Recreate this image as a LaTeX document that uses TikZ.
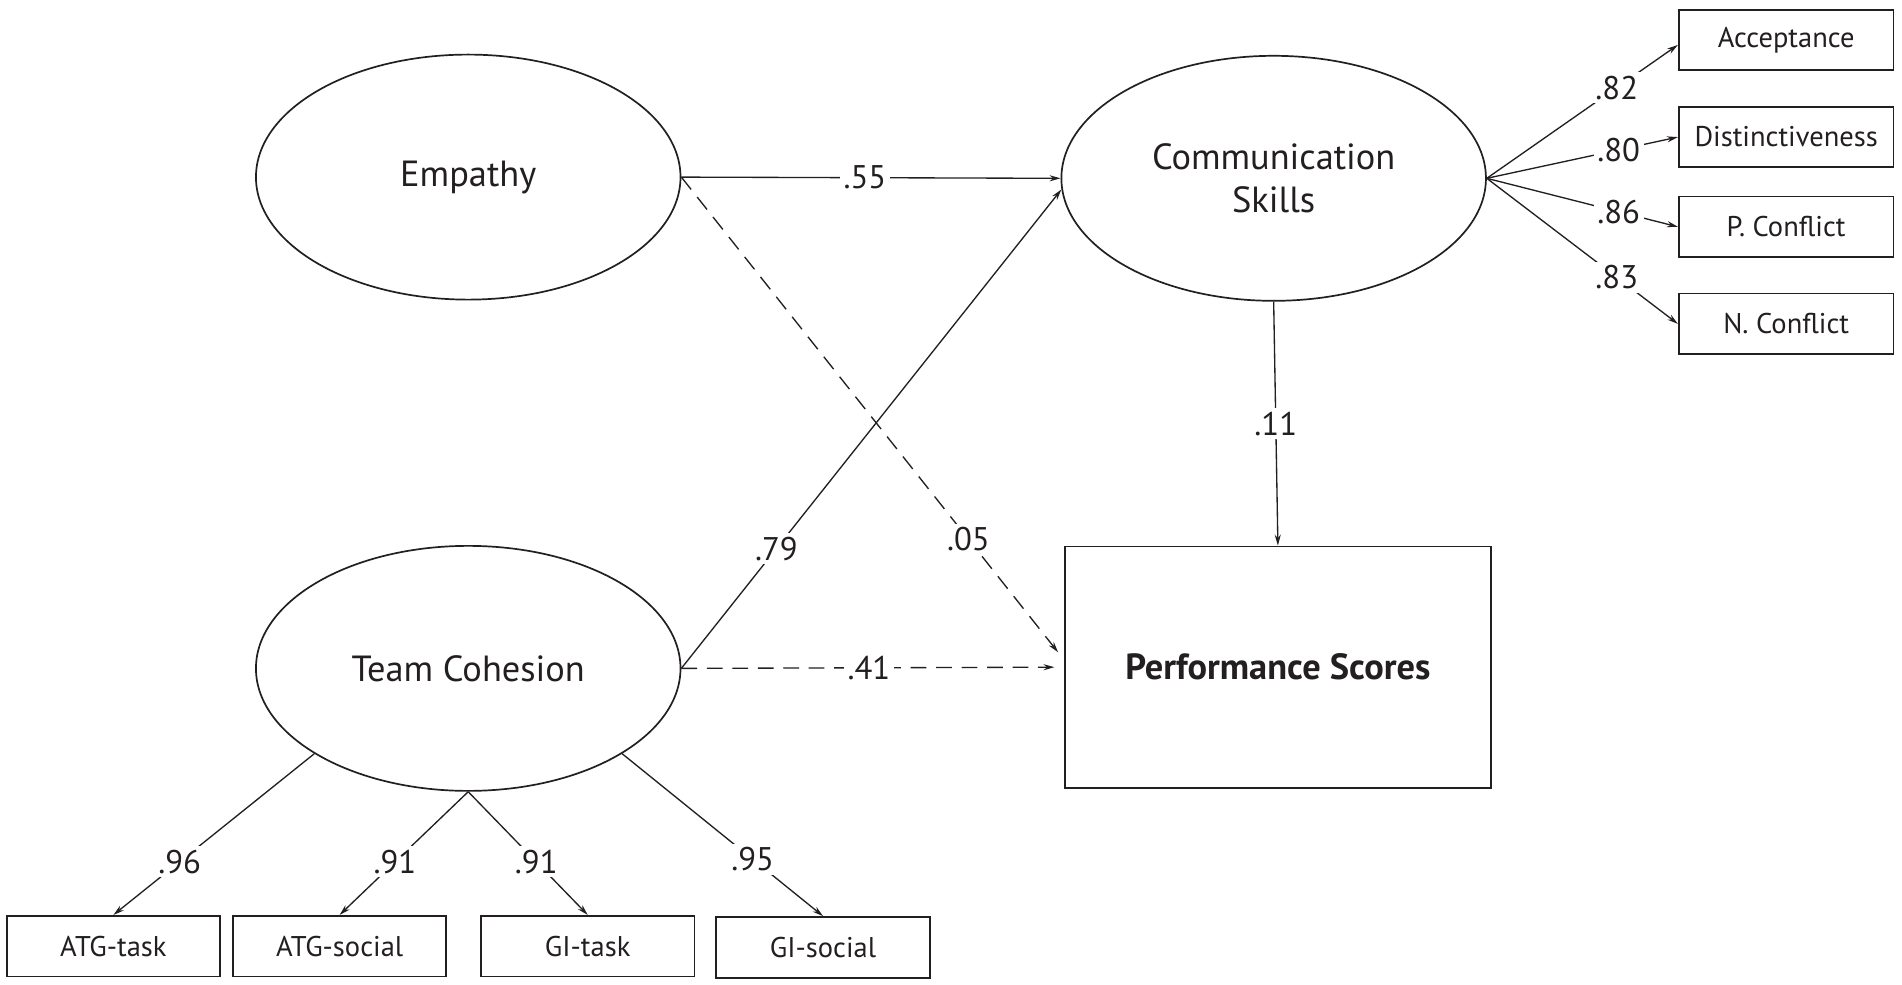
\documentclass[tikz,border=0pt]{standalone}
\usepackage{fontspec}
\setmainfont{PT Sans}
\usetikzlibrary{arrows.meta,shapes.geometric,calc}
\definecolor{ink}{HTML}{231F20}
\begin{document}
\begin{tikzpicture}[x=1pt,y=-1pt,
  every node/.style={text=ink},
  latent/.style={ellipse,draw=ink,line width=1.4pt,minimum width=350pt,minimum height=202pt,inner sep=0pt,align=center,font=\fontsize{30}{36}\selectfont},
  obsbox/.style={rectangle,draw=ink,line width=1.5pt,minimum width=176pt,minimum height=50pt,inner sep=0pt,font=\fontsize{23.5}{27}\selectfont},
  coef/.style={fill=white,inner sep=3pt,font=\fontsize{27}{31}\selectfont},
  conn/.style={draw=ink,line width=1.1pt,-{Stealth[length=9pt,width=5pt]}},
  dconn/.style={conn,dash pattern=on 13pt off 8pt},
]
\fill[white] (0,0) rectangle (1568,812);
\useasboundingbox (0,0) rectangle (1568,812);

% latent variables
\node[latent] (emp) at (386,146) {Empathy};
\node[latent] (comm) at (1050,147) {Communication\\Skills};
\node[latent] (tc) at (386,551) {Team Cohesion};

% outcome
\node[draw=ink,line width=1.5pt,minimum width=351pt,minimum height=199pt,inner sep=0pt,font=\bfseries\fontsize{30}{36}\selectfont] (perf) at (1053.5,550) {Performance Scores};

% indicators of communication skills
\node[obsbox,minimum width=177pt] (acc) at (1472.5,33) {Acceptance};
\node[obsbox,minimum width=177pt] (dist) at (1472.5,113) {Distinctiveness};
\node[obsbox,minimum width=177pt] (pc) at (1472.5,187) {P. Conflict};
\node[obsbox,minimum width=177pt] (nc) at (1472.5,267) {N. Conflict};

% indicators of team cohesion
\node[obsbox] (atgt) at (93.5,780) {ATG-task};
\node[obsbox] (atgs) at (280,780) {ATG-social};
\node[obsbox] (git) at (484.5,780) {GI-task};
\node[obsbox] (gis) at (678.5,781) {GI-social};

% structural paths
\draw[conn] (emp.east) -- node[coef,pos=.484]{.55} (comm.west);
\draw[dconn,shorten >=8pt] (emp.east) -- node[coef,pos=.75]{.05} ([yshift=6pt]perf.west);
\draw[conn] (tc.east) -- node[coef,pos=.25]{.79} (comm.183);
\draw[dconn,shorten >=8pt] (tc.east) -- node[coef,pos=.49]{.41} (perf.west);
\draw[conn] (comm.south) -- node[coef,pos=.5]{.11} (perf.north);

% loadings communication skills
\draw[conn] (comm.east) -- node[coef,pos=.68]{.82} ([yshift=-4pt]acc.west);
\draw[conn] (comm.east) -- node[coef,pos=.69]{.80} (dist.west);
\draw[conn] (comm.east) -- node[coef,pos=.69]{.86} (pc.west);
\draw[conn] (comm.east) -- node[coef,pos=.68]{.83} (nc.west);

% loadings team cohesion
\draw[conn] (tc.209) -- node[coef,pos=.67]{.96} (atgt.north);
\draw[conn] (tc.south) -- node[coef,pos=.57]{.91} (atgs.north);
\draw[conn] (tc.south) -- node[coef,pos=.57]{.91} (git.north);
\draw[conn] (tc.331) -- node[coef,pos=.65]{.95} (gis.north);
\end{tikzpicture}
\end{document}
